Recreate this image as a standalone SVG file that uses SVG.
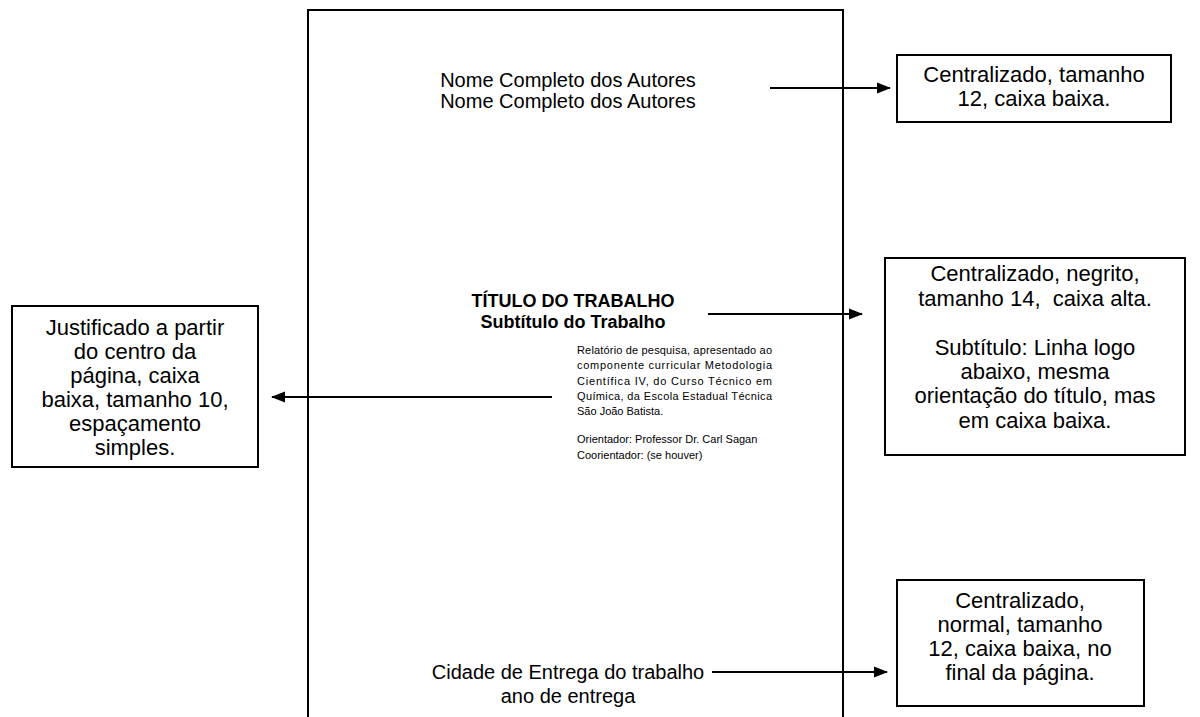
<svg xmlns="http://www.w3.org/2000/svg" width="1200" height="717" viewBox="0 0 1200 717">
<defs>
<style>
.t{font-family:"Liberation Sans",Arial,sans-serif;fill:#000}
.m{font-size:20px;text-anchor:middle}
.h{font-size:18px;text-anchor:middle;font-weight:bold}
.b{font-size:22px;text-anchor:middle}
.s{font-size:11px}
.box{fill:#fff;stroke:#000;stroke-width:2}
.c{stroke:#000;stroke-width:2;fill:none}
</style>
<marker id="ah" markerWidth="14" markerHeight="12" refX="13" refY="6" orient="auto" markerUnits="userSpaceOnUse"><path d="M0,0.5 L14,6 L0,11.5 z" fill="#000"/></marker>
</defs>
<rect width="1200" height="717" fill="#fff"/>
<g id="page">
<path d="M308,722 V10 H843 V722" fill="none" stroke="#000" stroke-width="2"/>
<text class="t m" x="568" y="87">Nome Completo dos Autores</text>
<text class="t m" x="568" y="108">Nome Completo dos Autores</text>
<text class="t h" x="573" y="307">TÍTULO DO TRABALHO</text>
<text class="t h" x="573" y="328">Subtítulo do Trabalho</text>
<g class="t s">
<text x="577" y="354" textLength="195" lengthAdjust="spacing">Relatório de pesquisa, apresentado ao</text>
<text x="577" y="369" textLength="195" lengthAdjust="spacing">componente curricular Metodologia</text>
<text x="577" y="385" textLength="195" lengthAdjust="spacing">Científica IV, do Curso Técnico em</text>
<text x="577" y="400" textLength="195" lengthAdjust="spacing">Química, da Escola Estadual Técnica</text>
<text x="577" y="415">São João Batista.</text>
<text x="577" y="443">Orientador: Professor Dr. Carl Sagan</text>
<text x="577" y="459">Coorientador: (se houver)</text>
</g>
<text class="t m" x="568" y="679">Cidade de Entrega do trabalho</text>
<text class="t m" x="568" y="703">ano de entrega</text>
</g>
<g id="box1">
<rect class="box" x="897" y="55" width="274" height="67"/>
<text class="t b" x="1034" y="82">Centralizado, tamanho</text>
<text class="t b" x="1034" y="106">12, caixa baixa.</text>
</g>
<g id="box2">
<rect class="box" x="885" y="258" width="300" height="197"/>
<text class="t b" x="1035" y="281">Centralizado, negrito,</text>
<text class="t b" x="1035" y="306" xml:space="preserve">tamanho 14,  caixa alta.</text>
<text class="t b" x="1035" y="355">Subtítulo: Linha logo</text>
<text class="t b" x="1035" y="379">abaixo, mesma</text>
<text class="t b" x="1035" y="403">orientação do título, mas</text>
<text class="t b" x="1035" y="428">em caixa baixa.</text>
</g>
<g id="box3">
<rect class="box" x="12" y="306" width="246" height="161"/>
<text class="t b" x="135" y="335">Justificado a partir</text>
<text class="t b" x="135" y="359">do centro da</text>
<text class="t b" x="135" y="383">página, caixa</text>
<text class="t b" x="135" y="407">baixa, tamanho 10,</text>
<text class="t b" x="135" y="431">espaçamento</text>
<text class="t b" x="135" y="455">simples.</text>
</g>
<g id="box4">
<rect class="box" x="897" y="580" width="247" height="126"/>
<text class="t b" x="1020" y="608">Centralizado,</text>
<text class="t b" x="1020" y="632">normal, tamanho</text>
<text class="t b" x="1020" y="656">12, caixa baixa, no</text>
<text class="t b" x="1020" y="680">final da página.</text>
</g>
<g id="connectors">
<line class="c" x1="770" y1="88" x2="890" y2="88" marker-end="url(#ah)"/>
<line class="c" x1="708" y1="314" x2="862" y2="314" marker-end="url(#ah)"/>
<line class="c" x1="552" y1="397" x2="272" y2="397" marker-end="url(#ah)"/>
<line class="c" x1="712" y1="672" x2="887" y2="672" marker-end="url(#ah)"/>
</g>
</svg>
